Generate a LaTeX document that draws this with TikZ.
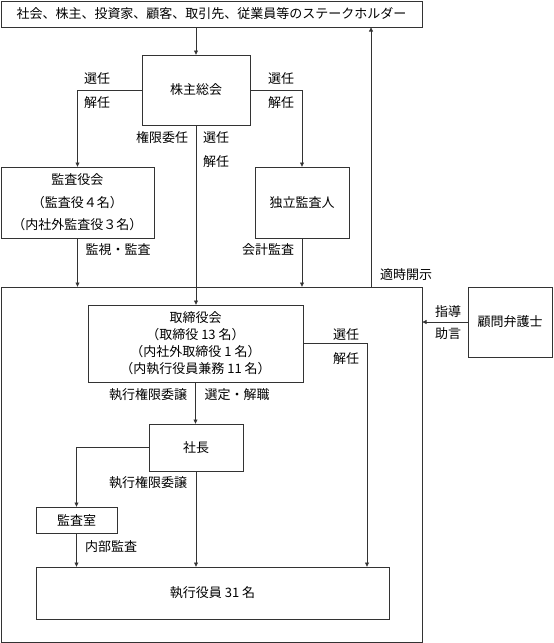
\documentclass[tikz,border=0pt]{standalone}
\usepackage{fontspec}
\newfontfamily\jpfont{Noto Sans CJK JP}
\usetikzlibrary{arrows.meta, positioning}

\begin{document}
\begin{tikzpicture}[
  x=1pt, y=-1pt,
  every node/.style={font=\jpfont\fontsize{13}{15}\selectfont, inner sep=0pt, outer sep=0pt},
  box/.style={rectangle, draw=black!80, line width=0.7pt, align=center},
  arrow/.style={-{Latex[length=4.5pt, width=4.5pt]}, draw=black!80, line width=0.7pt},
  line/.style={draw=black!80, line width=0.7pt},
  lbl/.style={align=center}
]
\useasboundingbox (0,0) rectangle (554,643);

% Outer frame of the executive side
\node[box, minimum width=421pt, minimum height=355pt] (outer) at (211.5,464.5) {};

% Top and shareholders meeting
\node[box, minimum width=421pt, minimum height=26pt] (top) at (211.5,14) {社会、株主、投資家、顧客、取引先、従業員等のステークホルダー};
\node[box, minimum width=108pt, minimum height=70pt] (gm) at (196,90) {株主総会};

% Audit side
\node[box, minimum width=153pt, minimum height=71pt, font=\jpfont\fontsize{13}{22.5}\selectfont] (kansa) at (77.5,202.5) {監査役会\\（監査役４名）\\（内社外監査役３名）};
\node[box, minimum width=94pt, minimum height=71pt] (indep) at (302,202.5) {独立監査人};

% Inside the frame
\node[box, minimum width=215pt, minimum height=77pt, font=\jpfont\fontsize{13}{17}\selectfont] (board) at (195.5,343.5) {取締役会\\（取締役 13 名）\\（内社外取締役 1 名）\\（内執行役員兼務 11 名）};
\node[box, minimum width=94pt, minimum height=47pt] (pres) at (196,447.5) {社長};
\node[box, minimum width=81pt, minimum height=26pt] (audit) at (76.5,520) {監査室};
\node[box, minimum width=353pt, minimum height=52pt] (officers) at (212.5,593) {執行役員 31 名};

% Lawyer
\node[box, minimum width=84pt, minimum height=70pt] (lawyer) at (510,322) {顧問弁護士};

% Connectors
\draw[arrow] (gm.north |- top.south) -- (gm.north);
\draw[arrow] (gm.west) -| (kansa.north);
\draw[arrow] (gm.east) -| (indep.north);
\draw[arrow] (gm.south) -- (gm.south |- board.north);
\foreach \n in {kansa, indep} {
  \draw[arrow] (\n.south) -- (\n.south |- outer.north);
}
\coordinate (disc) at (371,0);
\draw[arrow] (disc |- outer.north) -- (disc |- top.south);
\draw[arrow] (lawyer.west) -- (lawyer.west -| outer.east);
\draw[arrow] (board.south) -- (board.south |- pres.north);
\draw[arrow] (pres.west) -| (audit.north);
\coordinate (selR) at (367,0);
\draw[arrow] (board.east) -| (selR |- officers.north);
\foreach \n in {audit, pres} {
  \draw[arrow] (\n.south) -- (\n.south |- officers.north);
}

% Labels
\foreach \n/\x/\y/\t in {
  selL/97/79/選任, disL/97/103/解任,
  selRt/281/79/選任, disRt/281/103/解任,
  deleg/162/138/権限委任, selC/216/138/選任, disC/216/162/解任,
  watch/118/250/監視・監査, acct/268/250/会計監査,
  open/406/275/適時開示,
  guide/448/312/指導, advice/448/334/助言,
  selB/346/335/選任, disB/346/359/解任,
  execA/148/395/執行権限委譲, appoint/237/395/選定・解職,
  execB/148/483/執行権限委譲,
  internal/111/547/内部監査} {
  \node[lbl] (\n) at (\x,\y) {\t};
}

\end{tikzpicture}
\end{document}
